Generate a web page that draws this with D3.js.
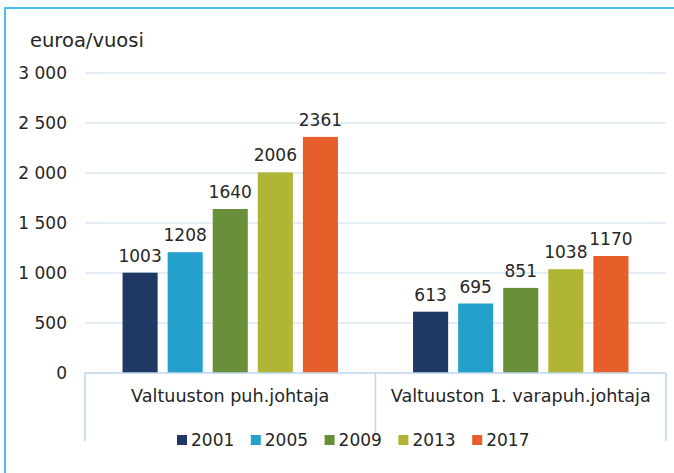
<!DOCTYPE html>
<html>
  <head>
    <meta charset="utf-8">
    <title>euroa/vuosi</title>
    <script src="https://d3js.org/d3.v7.min.js"></script>
    <style>
    body{margin:0; background:white;}
    svg{display:block; font-family:"DejaVu Sans", Verdana, sans-serif;}
    text{fill:#262626;}
    </style>
  </head>
  <body>
    <script>
    // data
    var categories = ["Valtuuston puh.johtaja", "Valtuuston 1. varapuh.johtaja"];
    var years = ["2001", "2005", "2009", "2013", "2017"];
    var values2001 = [1003, 613];
    var values2005 = [1208, 695];
    var values2009 = [1640, 851];
    var values2013 = [2006, 1038];
    var values2017 = [2361, 1170];
    var yTicks = [0, 500, 1000, 1500, 2000, 2500, 3000];
    var colors = ["#1f3864", "#23a1cc", "#6a8f3a", "#b0b535", "#e65f2b"];

    var series = [values2001, values2005, values2009, values2013, values2017];

    var width = 674, height = 473;
    var svg = d3.select("body").append("svg").attr("width", width).attr("height", height);

    // outer frame (cut off on right and bottom)
    svg.append("path")
      .attr("d", "M5,480 V8 H690")
      .attr("fill", "none")
      .attr("stroke", "#45c0ef")
      .attr("stroke-width", 2);

    var x0 = d3.scaleBand().domain(categories).range([85, 666]);
    var x1 = d3.scaleBand().domain(years).range([0, x0.bandwidth()])
        .paddingInner(0.222).paddingOuter(0.833);
    var y = d3.scaleLinear().domain([0, 3000]).range([373, 73]);

    // gridlines
    svg.append("g").selectAll("line")
      .data(yTicks.slice(1))
      .enter().append("line")
      .attr("x1", 85).attr("x2", 666)
      .attr("y1", d => y(d)).attr("y2", d => y(d))
      .attr("stroke", "#c6dcef").attr("stroke-width", 1.2);

    // y tick labels
    var fmt = d => d3.format(",")(d).replace(",", " ");
    svg.append("g").selectAll("text")
      .data(yTicks)
      .enter().append("text")
      .attr("x", 67).attr("y", d => y(d) + 6)
      .attr("text-anchor", "end")
      .style("font-size", "17px")
      .text(fmt);

    svg.append("text")
      .attr("x", 30).attr("y", 47)
      .style("font-size", "19.5px")
      .text("euroa/vuosi");

    // bars
    var groups = svg.append("g").selectAll("g")
      .data(categories)
      .enter().append("g")
      .attr("transform", d => "translate(" + x0(d) + ",0)");

    groups.selectAll("rect")
      .data((c, ci) => years.map((yr, i) => ({year: yr, i: i, v: series[i][ci]})))
      .enter().append("rect")
      .attr("x", d => x1(d.year))
      .attr("width", x1.bandwidth())
      .attr("y", d => y(d.v))
      .attr("height", d => y(0) - y(d.v))
      .attr("fill", d => colors[d.i]);

    groups.selectAll("text.val")
      .data((c, ci) => years.map((yr, i) => ({year: yr, i: i, v: series[i][ci]})))
      .enter().append("text")
      .attr("class", "val")
      .attr("x", d => x1(d.year) + x1.bandwidth() / 2)
      .attr("y", d => y(d.v) - 11)
      .attr("text-anchor", "middle")
      .style("font-size", "17px")
      .text(d => d.v);

    // category axis
    var axisColor = "#bcd6ee";
    svg.append("line")
      .attr("x1", 85).attr("x2", 666).attr("y1", 373).attr("y2", 373)
      .attr("stroke", axisColor).attr("stroke-width", 1.5);
    var dividers = [x0(categories[0]), x0(categories[1]), x0(categories[1]) + x0.bandwidth()];
    svg.append("g").selectAll("line")
      .data(dividers)
      .enter().append("line")
      .attr("x1", d => d).attr("x2", d => d)
      .attr("y1", 373).attr("y2", 441)
      .attr("stroke", axisColor).attr("stroke-width", 1.5);
    svg.append("g").selectAll("text")
      .data(categories)
      .enter().append("text")
      .attr("x", d => x0(d) + x0.bandwidth() / 2)
      .attr("y", 402)
      .attr("text-anchor", "middle")
      .style("font-size", "17.6px")
      .text(d => d);

    // legend
    svg.append("rect")
      .attr("x", 172).attr("y", 433).attr("width", 365).attr("height", 18)
      .attr("fill", "white");
    var legend = svg.append("g").selectAll("g")
      .data(years)
      .enter().append("g")
      .attr("transform", (d, i) => "translate(" + (177 + i * 73.8) + ",0)");
    legend.append("rect")
      .attr("x", 0).attr("y", 435).attr("width", 10).attr("height", 10)
      .attr("fill", (d, i) => colors[i]);
    legend.append("text")
      .attr("x", 14).attr("y", 446)
      .style("font-size", "17px")
      .text(d => d);
    </script>
  </body>
</html>
